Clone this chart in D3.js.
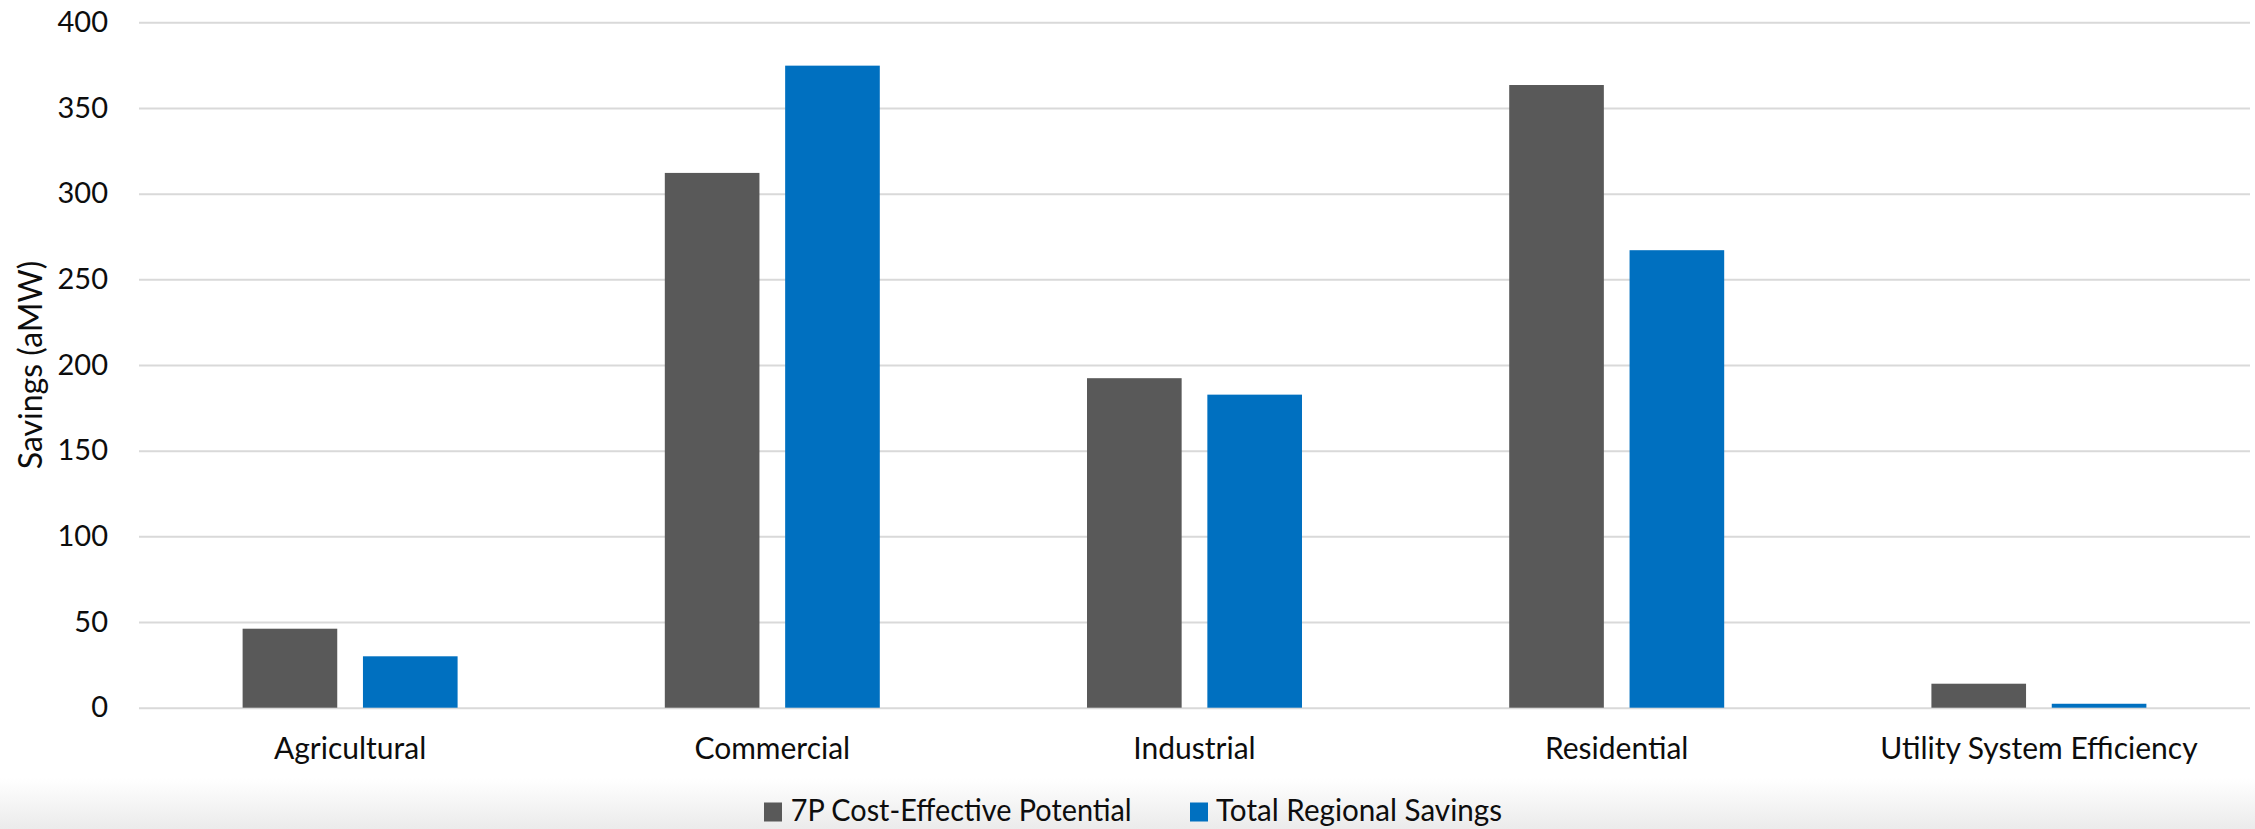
<!DOCTYPE html>
<html><head><meta charset="utf-8">
<script src="https://cdn.jsdelivr.net/npm/d3@7"></script>
<style>
body{margin:0;background:#fff;}
svg{display:block;}
text{font-family:Lato,'Open Sans',sans-serif;fill:#0d0d0d;}
</style>
</head><body>
<svg id="c" width="2255" height="829"></svg>
<script>
const categories = ["Agricultural","Commercial","Industrial","Residential","Utility System Efficiency"];
const seriesNames = ["7P Cost-Effective Potential","Total Regional Savings"];
const potential = [46.1, 312.1, 192.3, 363.4, 14.0];
const regionalSavings = [30.0, 374.7, 182.7, 267.0, 2.3];
const yTicks = [0,50,100,150,200,250,300,350,400];
const yTitle = "Savings (aMW)";
const colors = ["#595959","#0070C0"];

const W = 2255, H = 829;
const m = {left:139, right:2250, top:22.3, bottom:707.7};
const svg = d3.select("#c");

const defs = svg.append("defs");
const grad = defs.append("linearGradient").attr("id","bg").attr("x1",0).attr("y1",0).attr("x2",0).attr("y2",1);
grad.append("stop").attr("offset","0%").attr("stop-color","#ffffff");
grad.append("stop").attr("offset","100%").attr("stop-color","#ebebeb");
svg.append("rect").attr("x",0).attr("y",778).attr("width",W).attr("height",H-778).attr("fill","url(#bg)");

const x = d3.scaleBand().domain(categories).range([m.left,m.right]).padding(0);
const bw = x.bandwidth();
const x1 = d3.scaleBand().domain(seriesNames).range([bw*0.2454, bw*0.7546]).paddingInner(0.2136).paddingOuter(0);
const y = d3.scaleLinear().domain([0,400]).range([m.bottom,m.top]);

// gridlines + y labels
const yAxis = d3.axisLeft(y).tickValues(yTicks).tickSize(-(m.right-m.left)).tickPadding(31).tickFormat(d3.format("d"));
const gy = svg.append("g").attr("transform",`translate(${m.left},0)`).call(yAxis);
gy.select(".domain").remove();
gy.selectAll(".tick line").attr("stroke","#d9d9d9").attr("stroke-width",2);
gy.selectAll(".tick text").attr("font-size",29).attr("fill","#0d0d0d").style("font-family","Lato,'Open Sans',sans-serif");

// bars
const rows = categories.map((c,i)=>({cat:c, vals:[potential[i], regionalSavings[i]]}));
const groups = svg.append("g").selectAll("g").data(rows).join("g")
  .attr("transform",d=>`translate(${x(d.cat)},0)`);
groups.selectAll("rect").data(d=>d.vals.map((v,j)=>({s:seriesNames[j],v,j}))).join("rect")
  .attr("x",d=>x1(d.s)).attr("width",x1.bandwidth())
  .attr("y",d=>y(d.v)).attr("height",d=>y(0)-y(d.v))
  .attr("fill",d=>colors[d.j]);

// x axis labels
const xAxis = d3.axisBottom(x).tickSize(0).tickPadding(0);
const gx = svg.append("g").attr("transform",`translate(0,${m.bottom})`).call(xAxis);
gx.select(".domain").remove();
gx.selectAll(".tick text").attr("y",51.5).attr("dy",0).attr("font-size",30).attr("fill","#0d0d0d").style("font-family","Lato,'Open Sans',sans-serif");

// y title
svg.append("text").attr("transform",`translate(42,${(m.top+m.bottom)/2}) rotate(-90)`)
  .attr("text-anchor","middle").attr("font-size",32).text(yTitle);

// legend
const legX = [764, 1190];
const legTextOffset = [26.7, 26];
const legW = [341, 286];
const leg = svg.append("g").selectAll("g").data(seriesNames).join("g")
  .attr("transform",(d,i)=>`translate(${legX[i]},0)`);
leg.append("rect").attr("x",0).attr("y",802.5).attr("width",18).attr("height",19).attr("fill",(d,i)=>colors[i]);
leg.append("text").attr("x",(d,i)=>legTextOffset[i]).attr("y",821).attr("font-size",30)
  .attr("textLength",(d,i)=>legW[i]).attr("lengthAdjust","spacingAndGlyphs").text(d=>d);
</script>
</body></html>
